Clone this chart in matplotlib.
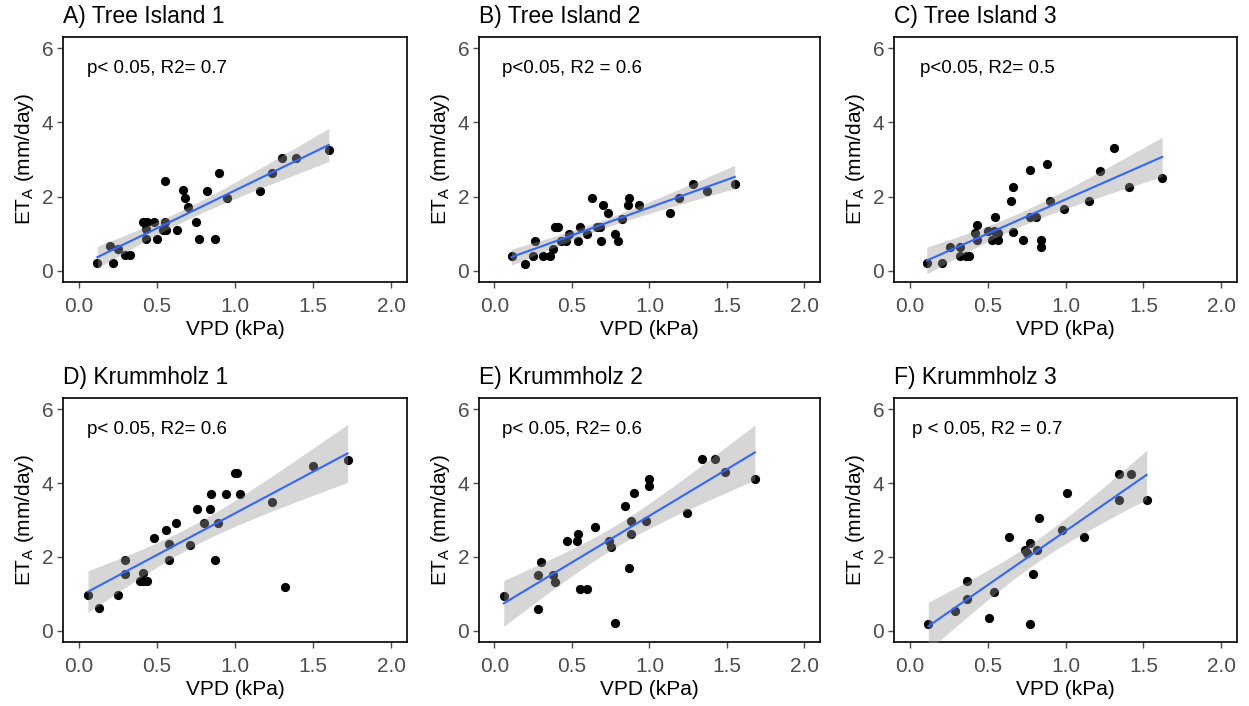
import matplotlib
matplotlib.use("Agg")
import matplotlib.pyplot as plt
import numpy as np

plt.rcParams['font.family'] = ['Liberation Sans', 'DejaVu Sans']

# Panel A - Tree Island 1
vpd_a = [0.12, 0.22, 0.20, 0.25, 0.30, 0.33, 0.41, 0.44, 0.48, 0.43, 0.43, 0.50, 0.55, 0.55,
         0.56, 0.54, 0.63, 0.67, 0.68, 0.70, 0.75, 0.77, 0.82, 0.87, 0.90, 0.95, 1.16, 1.24,
         1.30, 1.39, 1.60]
et_a = [0.21, 0.21, 0.67, 0.58, 0.42, 0.42, 1.32, 1.32, 1.32, 1.12, 0.87, 0.87, 2.42, 1.32,
        1.10, 1.10, 1.10, 2.17, 1.95, 1.73, 1.32, 0.87, 2.16, 0.87, 2.63, 1.95, 2.16, 2.63,
        3.05, 3.05, 3.26]

# Panel B - Tree Island 2
vpd_b = [0.11, 0.20, 0.25, 0.26, 0.31, 0.36, 0.38, 0.39, 0.41, 0.43, 0.46, 0.48, 0.54, 0.55,
         0.60, 0.63, 0.66, 0.68, 0.69, 0.70, 0.73, 0.78, 0.80, 0.82, 0.87, 0.86, 0.93, 1.13,
         1.19, 1.28, 1.37, 1.55]
et_b = [0.40, 0.18, 0.40, 0.81, 0.40, 0.40, 0.58, 1.19, 1.19, 0.81, 0.81, 0.98, 0.81, 1.19,
        0.98, 1.95, 1.19, 1.19, 0.81, 1.78, 1.57, 0.98, 0.81, 1.39, 1.95, 1.78, 1.78, 1.57,
        1.95, 2.35, 2.16, 2.35]

# Panel C - Tree Island 3
vpd_c = [0.11, 0.21, 0.26, 0.32, 0.32, 0.36, 0.38, 0.42, 0.43, 0.43, 0.50, 0.53, 0.54, 0.55,
         0.57, 0.57, 0.65, 0.66, 0.66, 0.73, 0.77, 0.77, 0.81, 0.84, 0.84, 0.88, 0.90, 0.99,
         1.15, 1.22, 1.31, 1.41, 1.62]
et_c = [0.21, 0.21, 0.63, 0.63, 0.39, 0.39, 0.39, 1.03, 1.23, 0.84, 1.08, 0.84, 1.08, 1.44,
        0.84, 1.03, 1.89, 2.26, 1.05, 0.84, 2.71, 1.44, 1.44, 0.84, 0.63, 2.89, 1.89, 1.66,
        1.89, 2.70, 3.31, 2.26, 2.49]

# Panel D - Krummholz 1
vpd_d = [0.06, 0.13, 0.25, 0.30, 0.30, 0.39, 0.41, 0.41, 0.44, 0.48, 0.56, 0.58, 0.58, 0.62,
         0.71, 0.76, 0.80, 0.84, 0.85, 0.87, 0.89, 0.94, 1.00, 1.01, 1.03, 1.24, 1.32, 1.50,
         1.72]
et_d = [0.96, 0.61, 0.96, 1.55, 1.93, 1.36, 1.57, 1.36, 1.36, 2.51, 2.74, 2.35, 1.93, 2.91,
        2.33, 3.29, 2.91, 3.29, 3.69, 1.93, 2.91, 3.69, 4.28, 4.28, 3.69, 3.48, 1.18, 4.46,
        4.62]

# Panel E - Krummholz 2
vpd_e = [0.06, 0.28, 0.28, 0.30, 0.38, 0.39, 0.47, 0.53, 0.54, 0.55, 0.60, 0.65, 0.74, 0.75,
         0.78, 0.84, 0.87, 0.88, 0.88, 0.90, 0.98, 1.00, 1.00, 1.24, 1.34, 1.42, 1.49, 1.68]
et_e = [0.94, 0.58, 1.51, 1.87, 1.51, 1.33, 2.44, 2.44, 2.62, 1.14, 1.14, 2.80, 2.44, 2.26,
        0.21, 3.38, 1.69, 2.62, 2.98, 3.74, 2.98, 3.92, 4.12, 3.20, 4.66, 4.66, 4.30, 4.12]

# Panel F - Krummholz 3
vpd_f = [0.12, 0.29, 0.37, 0.37, 0.51, 0.54, 0.64, 0.74, 0.75, 0.77, 0.77, 0.79, 0.82, 0.83,
         0.98, 1.01, 1.12, 1.34, 1.34, 1.42, 1.52]
et_f = [0.18, 0.54, 1.36, 0.87, 0.36, 1.05, 2.54, 2.20, 2.12, 2.38, 0.18, 1.55, 2.20, 3.05,
        2.73, 3.72, 2.54, 4.23, 3.54, 4.23, 3.54]

titles = ["A) Tree Island 1", "B) Tree Island 2", "C) Tree Island 3",
          "D) Krummholz 1", "E) Krummholz 2", "F) Krummholz 3"]
notes = ["p< 0.05, R2= 0.7", "p<0.05, R2 = 0.6", "p<0.05, R2= 0.5",
         "p< 0.05, R2= 0.6", "p< 0.05, R2= 0.6", "p < 0.05, R2 = 0.7"]
xs = [vpd_a, vpd_b, vpd_c, vpd_d, vpd_e, vpd_f]
ys = [et_a, et_b, et_c, et_d, et_e, et_f]

# axes boxes in figure fractions (left, bottom, width, height)
lefts = [0.0504, 0.3835, 0.7158]
widths = [0.2754, 0.2730, 0.2746]
bottoms = [0.6006, 0.0907]
heights = [0.3470, 0.3456]


def lm_ribbon(x, y):
    # linear fit with 95% confidence band, like geom_smooth(method="lm")
    x = np.asarray(x)
    y = np.asarray(y)
    n = len(x)
    slope, inter = np.polyfit(x, y, 1)
    resid = y - (inter + slope * x)
    df = n - 2
    s = np.sqrt(np.sum(resid ** 2) / df)
    tval = 1.96 + 2.5 / df
    xg = np.linspace(x.min(), x.max(), 80)
    fit = inter + slope * xg
    se = s * np.sqrt(1.0 / n + (xg - x.mean()) ** 2 / np.sum((x - x.mean()) ** 2))
    return xg, fit, fit - tval * se, fit + tval * se


fig = plt.figure(figsize=(12.49, 7.06), dpi=100)

for i in range(6):
    row, col = divmod(i, 3)
    ax = fig.add_axes([lefts[col], bottoms[row], widths[col], heights[row]])
    ax.scatter(xs[i], ys[i], s=44, color='black', zorder=2, linewidths=0)
    xg, fit, lo, hi = lm_ribbon(xs[i], ys[i])
    ax.fill_between(xg, lo, hi, color='#999999', alpha=0.4, linewidth=0, zorder=3)
    ax.plot(xg, fit, color='#3366FF', linewidth=1.5, zorder=4)
    ax.text(0.5, 5.45, notes[i], ha='center', va='center', fontsize=13.5, color='black')

    ax.set_xlim(-0.1, 2.1)
    ax.set_ylim(-0.3, 6.3)
    ax.set_xticks([0.0, 0.5, 1.0, 1.5, 2.0])
    ax.set_xticklabels(["0.0", "0.5", "1.0", "1.5", "2.0"])
    ax.set_yticks([0, 2, 4, 6])
    ax.tick_params(colors='#4D4D4D', labelsize=15, length=4, width=1, pad=3)
    ax.tick_params(axis='x', pad=7)
    for sp in ax.spines.values():
        sp.set_color('black')
        sp.set_linewidth(1.2)
    ax.set_xlabel("VPD (kPa)", fontsize=15, labelpad=3)
    ax.set_ylabel("ET$_\\mathregular{A}$ (mm/day)", fontsize=15, labelpad=4)
    ax.set_title(titles[i], loc='left', fontsize=16.5, pad=10)

fig.savefig("out.png", dpi=100)
